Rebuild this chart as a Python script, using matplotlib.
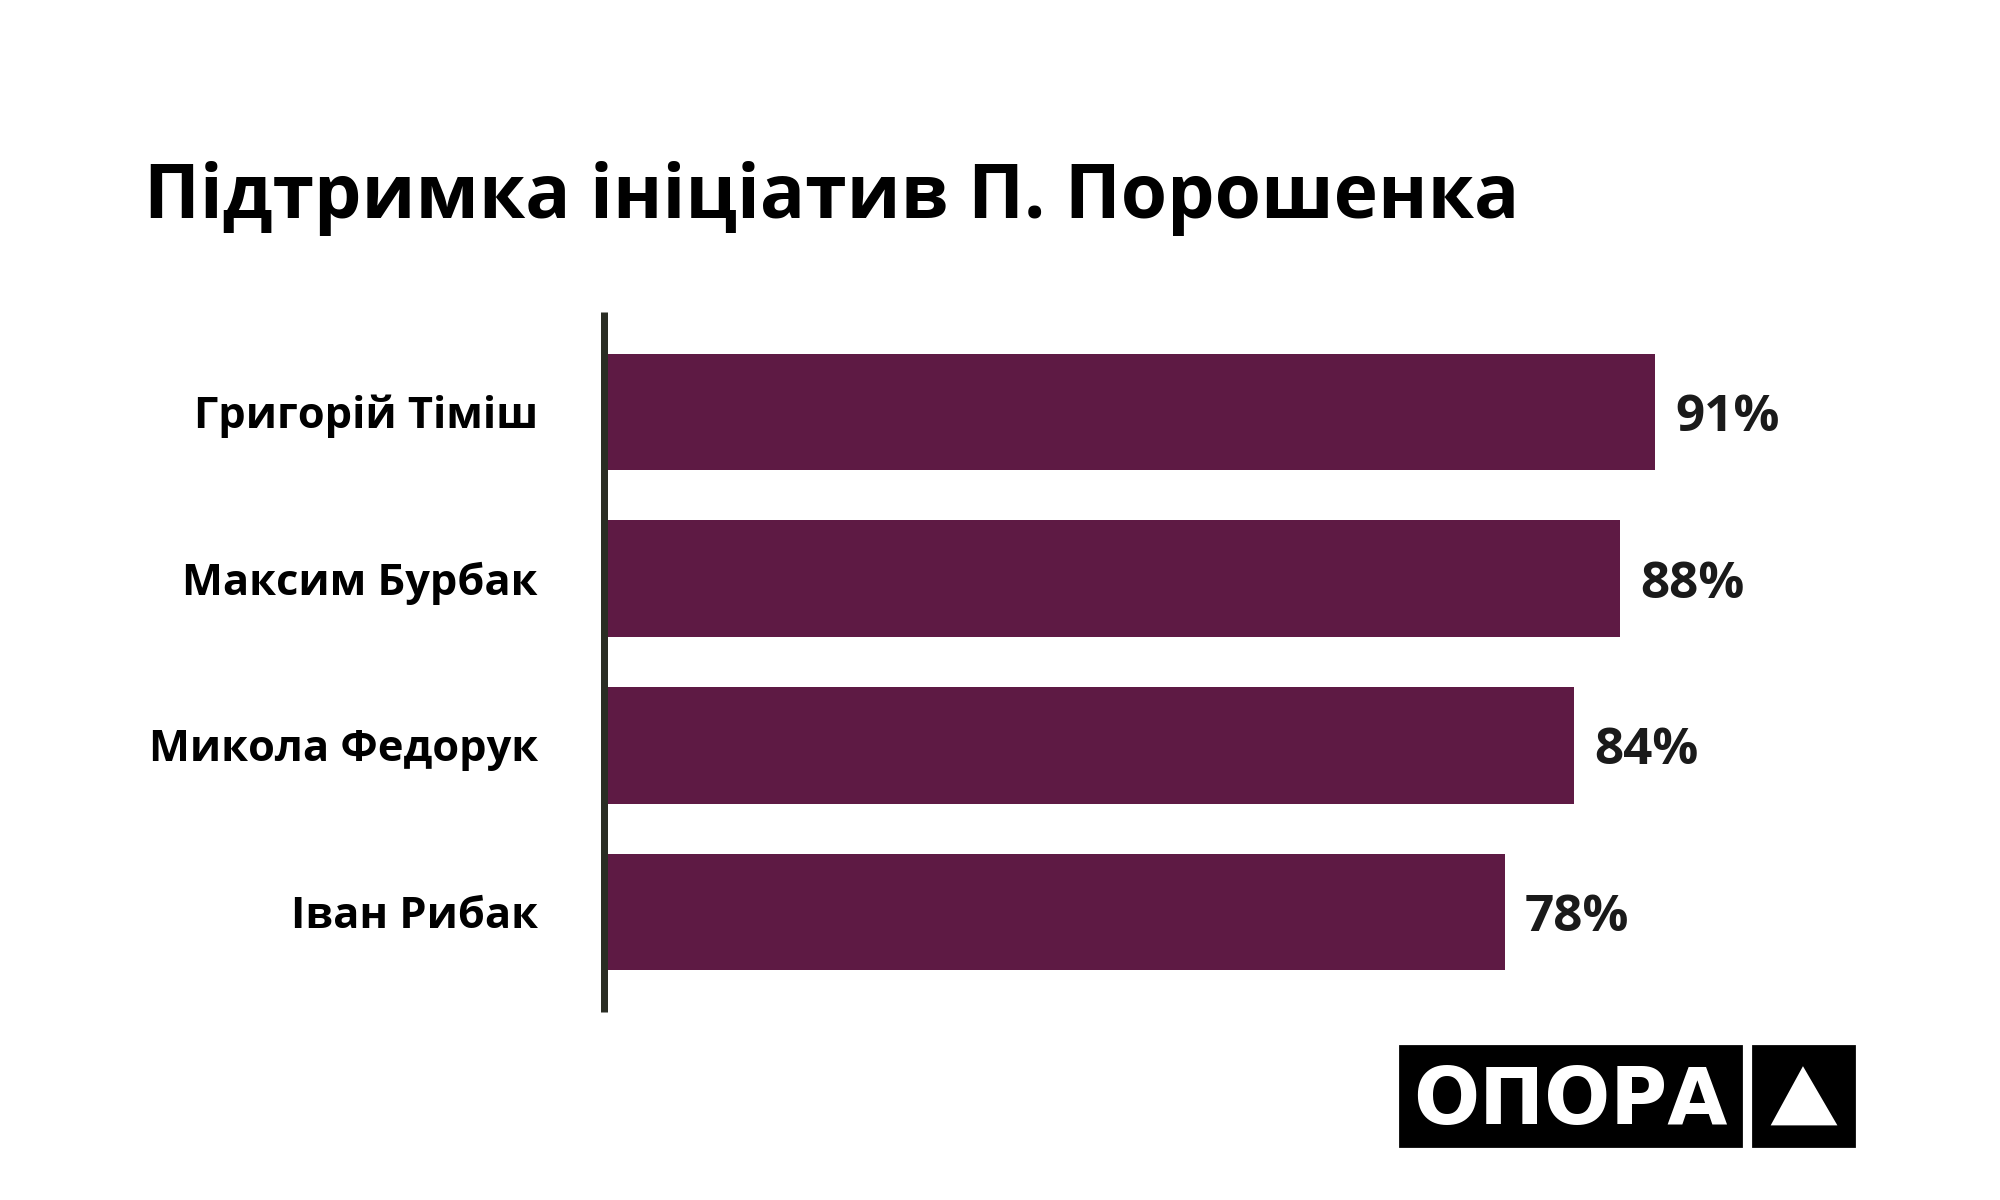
import matplotlib
matplotlib.use('Agg')
import matplotlib.pyplot as plt
from matplotlib.patches import Rectangle, Polygon

names = ['Григорій Тіміш', 'Максим Бурбак', 'Микола Федорук', 'Іван Рибак']
support = [91, 88, 84, 78]

bar_color = '#5e1a44'
text_dark = '#1a1a1a'

plt.rcParams['font.family'] = ['Open Sans', 'DejaVu Sans']

DPI = 200
fig = plt.figure(figsize=(10, 6), dpi=DPI)
fig.patch.set_facecolor('white')

# axes placed in pixel terms of the 2000x1200 canvas
ax = fig.add_axes([604 / 2000, 1 - 1012 / 1200, 1155 / 2000, 700 / 1200])
ypos = list(range(len(names)))
ax.barh(ypos, support, height=0.7, color=bar_color, zorder=1)
ax.set_xlim(0, 100)
ax.set_ylim(len(names) - 0.4, -0.6)

for s in ['top', 'right', 'bottom']:
    ax.spines[s].set_visible(False)
ax.spines['left'].set_color('#2a2d24')
ax.spines['left'].set_linewidth(7 * 72 / DPI)
ax.spines['left'].set_capstyle('butt')
ax.spines['left'].set_zorder(3)
ax.set_xticks([])
ax.set_yticks([])

px = 72 / DPI
for y, name, val in zip(ypos, names, support):
    ax.annotate(name, xy=(0, y), xycoords=('axes fraction', 'data'),
                xytext=(-66 * px, -16 * px), textcoords='offset points',
                ha='right', va='baseline', fontsize=15.6, fontweight='bold',
                color='black')
    ax.annotate(f'{val}%', xy=(val, y), xycoords='data',
                xytext=(20 * px, -19 * px), textcoords='offset points',
                ha='left', va='baseline', fontsize=18.4, fontweight='bold',
                color=text_dark)

fig.text(144 / 2000, 1 - 218 / 1200, 'Підтримка ініціатив П. Порошенка',
         ha='left', va='baseline', fontsize=27, fontweight='bold', color='black')

# logo
def fx(x):
    return x / 2000

def fy(y):
    return 1 - y / 1200

fig.patches.append(Rectangle((fx(1400), fy(1146)), fx(341), 100 / 1200,
                             transform=fig.transFigure, color='black'))
fig.patches.append(Rectangle((fx(1753), fy(1146)), fx(101), 100 / 1200,
                             transform=fig.transFigure, color='black'))
fig.patches.append(Polygon([(fx(1803), fy(1069)), (fx(1773), fy(1124)), (fx(1835), fy(1124))],
                           closed=True, transform=fig.transFigure, color='white'))
fig.text(fx(1570), fy(1124), 'ОПОРА', ha='center', va='baseline',
         fontsize=28, fontweight='bold', color='white', family=['DejaVu Sans'])

fig.savefig('out.png', dpi=DPI)
